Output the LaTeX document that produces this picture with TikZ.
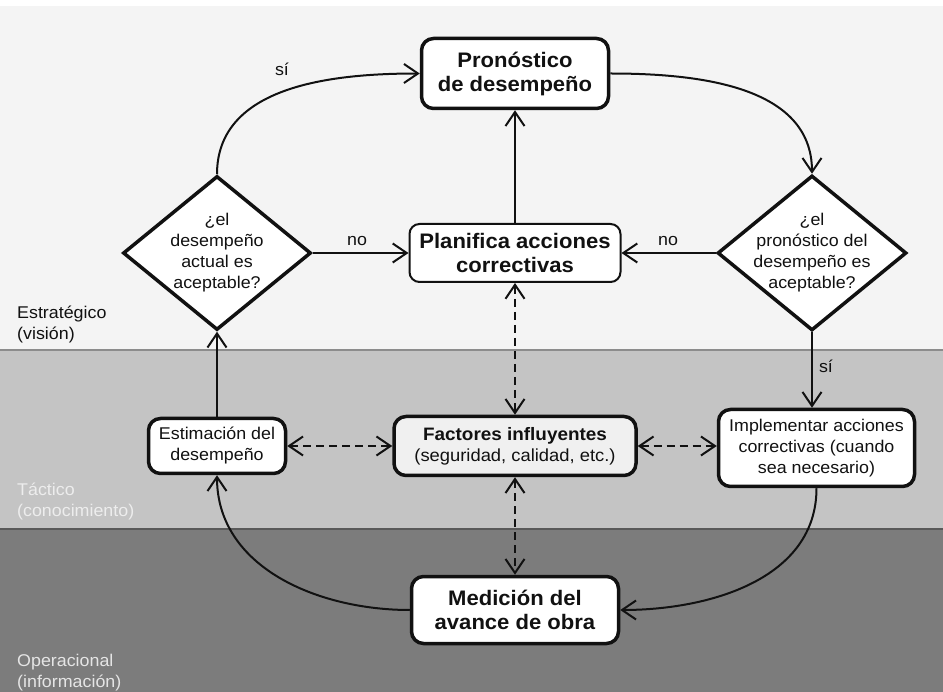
\documentclass[tikz,border=0pt]{standalone}
\usepackage{fontspec}
\setmainfont{Liberation Sans}[FakeStretch=1.05]
\usepackage{tikz}
\usetikzlibrary{arrows.meta,shapes.geometric}
\definecolor{topbg}{HTML}{F4F4F4}
\definecolor{midbg}{HTML}{C4C4C4}
\definecolor{lowbg}{HTML}{7C7C7C}
\definecolor{factbg}{HTML}{F0F0F0}
\definecolor{inkc}{HTML}{111111}
\newcommand\txtf{\fontsize{17}{21}\selectfont}
\newcommand\hdf{\fontsize{21}{24}\selectfont\bfseries}
\tikzset{
  ar/.style={-{Straight Barb[length=14pt,width=19pt]},line width=2pt,inkc},
  dar/.style={{Straight Barb[length=14pt,width=19pt]}-{Straight Barb[length=14pt,width=19pt]},line width=2pt,inkc,dash pattern=on 8pt off 5pt},
  bx/.style={draw=inkc,line width=3.5pt,rounded corners=12pt,fill=white,align=center,inner sep=2pt,font=\txtf,text=inkc},
  dm/.style={diamond,draw=inkc,line width=3.5pt,fill=white,inner sep=0pt},
  dtxt/.style={align=center,font=\txtf,text=inkc,inner sep=0pt},
  lbl/.style={font=\txtf,text=inkc,inner sep=0pt},
  lvl/.style={anchor=base west,align=left,font=\txtf,inner sep=0pt}
}
\begin{document}
\begin{tikzpicture}[x=1pt,y=1pt]
\useasboundingbox (0,0) rectangle (943,-692);
\fill[white] (0,0) rectangle (943,-692);
\fill[topbg] (0,-6) rectangle (943,-350);
\fill[midbg] (0,-350) rectangle (943,-529);
\fill[lowbg] (0,-529) rectangle (943,-692);
\draw[black!45,line width=1.5pt] (0,-350) -- (943,-350);
\draw[black!65,line width=1.5pt] (0,-529) -- (943,-529);
\node[lvl,text=inkc] (estr) at (17,-340) {Estratégico\\(visión)};
\node[lvl,text=white!93!black] (tact) at (17,-517) {Táctico\\(conocimiento)};
\node[lvl,text=white!90!black] (oper) at (17,-687) {Operacional\\(información)};
\node[bx,font=\hdf,minimum width=187pt,minimum height=70pt] (prog) at (515,-73.5) {Pronóstico\\de desempeño};
\node[bx,font=\hdf,line width=2pt,rounded corners=10pt,minimum width=211pt,minimum height=58pt] (plan) at (515,-253) {Planifica acciones\\correctivas};
\node[dm,minimum width=188pt,minimum height=154pt,label={[dtxt]center:{¿el\\desempeño\\actual es\\aceptable?}}] (dleft) at (217,-253) {};
\node[dm,minimum width=189pt,minimum height=155pt,label={[dtxt]center:{¿el\\pronóstico del\\desempeño es\\aceptable?}}] (dright) at (812,-253) {};
\node[bx,minimum width=137pt,minimum height=55pt] (est) at (217,-446) {Estimación del\\desempeño};
\node[bx,fill=factbg,minimum width=242pt,minimum height=59pt] (fact) at (515,-446) {{\fontsize{18}{22}\selectfont\bfseries Factores influyentes}\\{\fontsize{17.5}{22}\selectfont(seguridad, calidad, etc.)}};
\node[bx,minimum width=196pt,minimum height=77pt] (impl) at (816.5,-448) {Implementar acciones\\correctivas (cuando\\sea necesario)};
\node[bx,font=\hdf,minimum width=207pt,minimum height=67pt] (med) at (515,-610) {Medición del\\avance de obra};
\draw[ar] (dleft.north) to[out=90,in=180] (prog.west);
\draw[ar] (prog.east) to[out=0,in=90] (dright.north);
\draw[ar] (dleft.east) -- (plan.west);
\draw[ar] (dright.west) -- (plan.east);
\draw[ar] (plan.north) -- (prog.south);
\draw[ar] (est.north) -- (dleft.south);
\draw[ar] (dright.south) -- (dright.south |- impl.north);
\draw[dar] (plan.south) -- (fact.north);
\draw[dar] (est.east) -- (fact.west);
\draw[dar] (fact.east) -- (fact.east -| impl.west);
\draw[dar] (fact.south) -- (med.north);
\draw[ar] (impl.south) to[out=-90,in=0] (med.east);
\draw[ar] (med.west) to[out=180,in=-90] (est.south);
\node[lbl] (si1) at (282,-69) {sí};
\node[lbl] (no1) at (357,-241) {no};
\node[lbl] (no2) at (668,-241) {no};
\node[lbl] (si2) at (826,-366) {sí};
\end{tikzpicture}
\end{document}
